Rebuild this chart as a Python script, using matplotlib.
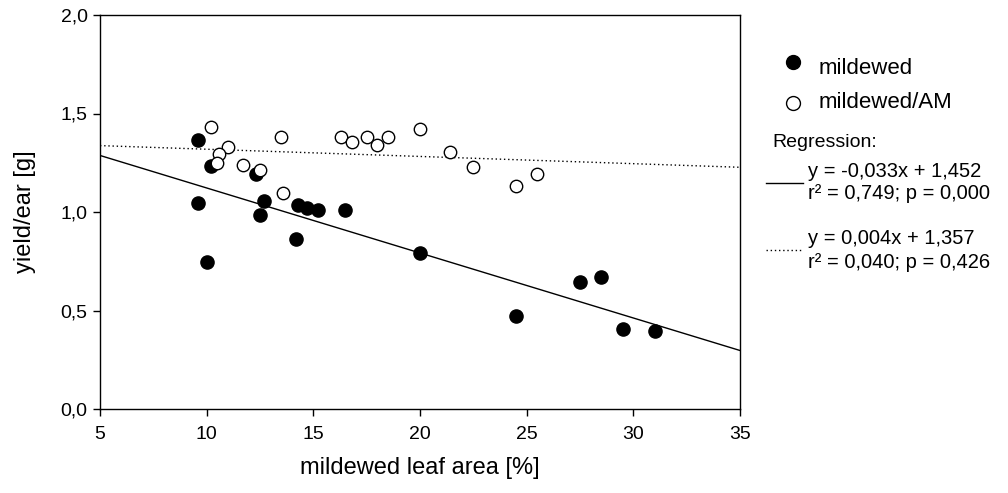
import matplotlib.pyplot as plt
from matplotlib.lines import Line2D
from matplotlib.ticker import FuncFormatter

plt.rcParams['font.family'] = ['Liberation Sans', 'DejaVu Sans']

# mildewed plants (filled)
mild_x = [9.6, 10.2, 9.6, 12.3, 12.7, 12.5, 14.3, 14.7, 15.2, 16.5, 14.2, 10.0,
          20.0, 24.5, 27.5, 28.5, 29.5, 31.0]
mild_y = [1.366, 1.235, 1.044, 1.191, 1.054, 0.985, 1.036, 1.019, 1.010, 1.010,
          0.861, 0.748, 0.794, 0.472, 0.646, 0.668, 0.408, 0.396]

# mildewed/AM plants (open)
am_x = [10.2, 11.0, 10.6, 10.5, 11.7, 12.5, 13.5, 13.6, 16.3, 16.8, 17.5, 18.0,
        18.5, 20.0, 21.4, 22.5, 24.5, 25.5]
am_y = [1.430, 1.332, 1.294, 1.247, 1.239, 1.213, 1.379, 1.095, 1.379, 1.354,
        1.379, 1.340, 1.379, 1.423, 1.305, 1.230, 1.134, 1.193]

# regression lines as drawn in the figure
line_x = [5, 35]
mild_fit = [1.287, 0.297]
am_fit = [1.337, 1.227]

fig = plt.figure(figsize=(10.08, 4.93), dpi=100)
ax = fig.add_axes([100 / 1008, 1 - 409 / 493, 640 / 1008, 394 / 493])

ax.plot(line_x, mild_fit, color='black', lw=1.0)
ax.plot(line_x, am_fit, color='black', lw=1.0, linestyle=(0, (1, 2)))
ax.scatter(mild_x, mild_y, s=90, color='black', zorder=3)
ax.scatter(am_x, am_y, s=80, facecolor='white', edgecolor='black',
           linewidth=1.0, zorder=3)

ax.set_xlim(5, 35)
ax.set_ylim(0, 2.0)
ax.set_xticks([5, 10, 15, 20, 25, 30, 35])
ax.set_yticks([0, 0.5, 1.0, 1.5, 2.0])
ax.yaxis.set_major_formatter(FuncFormatter(lambda v, p: f"{v:.1f}".replace('.', ',')))
ax.tick_params(direction='out', length=5, width=1, labelsize=14)
ax.tick_params(axis='x', pad=7)
ax.tick_params(axis='y', pad=4)
for s in ax.spines.values():
    s.set_linewidth(1.0)

ax.set_xlabel("mildewed leaf area [%]", fontsize=17, va='center')
ax.xaxis.set_label_coords(0.5, (409 - 468) / 394)
ax.set_ylabel("yield/ear [g]", fontsize=17, va='center')
ax.yaxis.set_label_coords((25 - 100) / 640, 0.5)


def px(x, y):
    return x / 1008, 1 - y / 493


fig.add_artist(Line2D([px(793, 62)[0]], [px(793, 62)[1]], marker='o',
                      markersize=10, color='black', linestyle='none'))
fig.text(*px(819, 68), "mildewed", fontsize=16, va='center')
fig.add_artist(Line2D([px(793, 103)[0]], [px(793, 103)[1]], marker='o',
                      markersize=10, markerfacecolor='white',
                      markeredgecolor='black', linestyle='none'))
fig.text(*px(819, 102), "mildewed/AM", fontsize=16, va='center')
fig.text(*px(772, 143), "Regression:", fontsize=14, va='center')

fig.add_artist(Line2D([766 / 1008, 803 / 1008], [1 - 183 / 493] * 2,
                      color='black', lw=1.0))
fig.text(*px(808, 172), "y = -0,033x + 1,452", fontsize=14.5, va='center')
fig.text(*px(808, 193), "r² = 0,749; p = 0,000", fontsize=14.5, va='center')

fig.add_artist(Line2D([766 / 1008, 803 / 1008], [1 - 250 / 493] * 2,
                      color='black', lw=1.0, linestyle=(0, (1, 2))))
fig.text(*px(808, 238), "y = 0,004x + 1,357", fontsize=14.5, va='center')
fig.text(*px(808, 262), "r² = 0,040; p = 0,426", fontsize=14.5, va='center')

fig.savefig("out.png", dpi=100)
